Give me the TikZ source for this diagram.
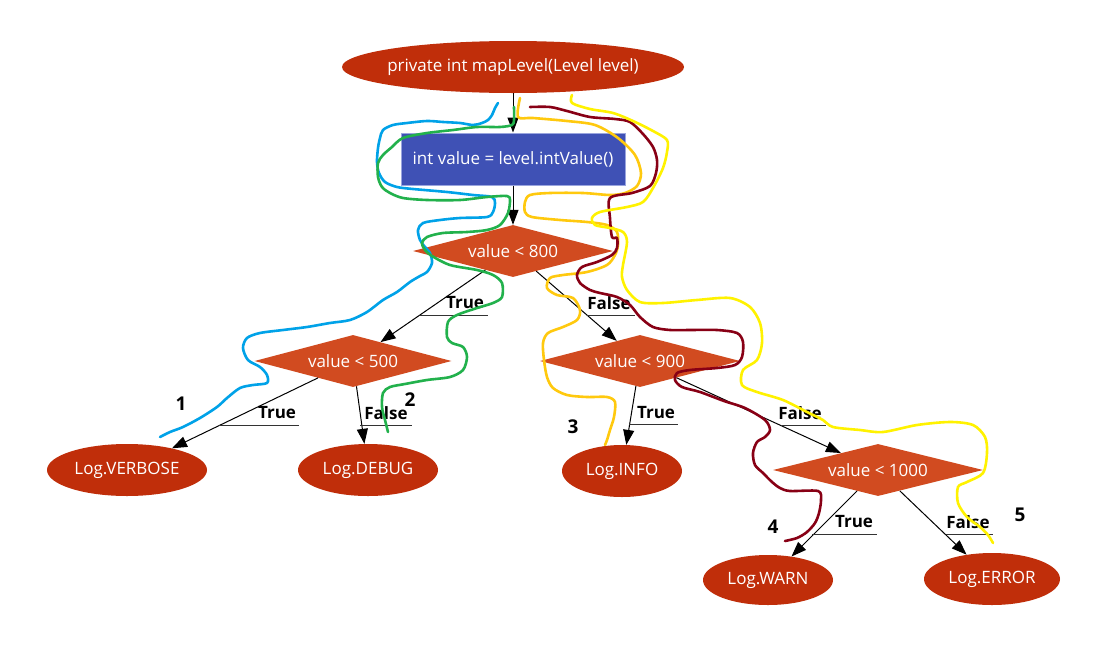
\documentclass[tikz,border=0pt]{standalone}
\usepackage{fontspec}
\setmainfont{Open Sans}
\usetikzlibrary{shapes.geometric,arrows.meta}
\definecolor{ellc}{HTML}{C02E0A}
\definecolor{diac}{HTML}{D14B20}
\definecolor{recc}{HTML}{3F51B5}
\definecolor{recb}{HTML}{9AA5DE}
\definecolor{fhblue}{HTML}{00A2E8}
\definecolor{fhgreen}{HTML}{22B14C}
\definecolor{fhorange}{HTML}{FFC90E}
\definecolor{fhred}{HTML}{880015}
\definecolor{fhyellow}{HTML}{FFF200}
\begin{document}
\begin{tikzpicture}[x=1pt,y=-1pt,
  term/.style={ellipse, fill=ellc, text=white, inner sep=0pt, inner xsep=-30pt, minimum height=52pt, font=\fontsize{17}{20}\selectfont},
  dec/.style={diamond, aspect=4, fill=diac, text=white, inner sep=0pt, minimum height=52pt, font=\fontsize{17}{20}\selectfont},
  proc/.style={rectangle, fill=recc, draw=recb, line width=1pt, text=white, minimum width=224pt, minimum height=52pt, font=\fontsize{17}{20}\selectfont},
  flow/.style={draw=black, line width=1pt, -{Triangle[length=15pt,width=11pt]}},
  lbl/.style={font=\bfseries\fontsize{17}{20}\selectfont, inner sep=0pt},
  uline/.style={draw=black!80, line width=1pt},
  num/.style={font=\bfseries\fontsize{19}{22}\selectfont, inner sep=0pt},
  fh/.style={line width=2.6pt, line cap=round, line join=round}
]
\useasboundingbox[fill=white] (0,0) rectangle (1098,651);

% nodes
\node[term, minimum width=342pt] (start) at (513,67) {private int mapLevel(Level level)};
\node[proc] (assign) at (513,159) {int value = level.intValue()};
\node[dec, minimum width=200pt] (d1) at (513,251) {value < 800};
\node[dec, minimum width=197pt] (d2) at (353,361) {value < 500};
\node[dec, minimum width=200pt] (d3) at (640,361) {value < 900};
\node[dec, minimum width=210pt] (d4) at (878,470) {value < 1000};
\node[term, minimum width=160pt] (verbose) at (127,470) {Log.VERBOSE};
\node[term, minimum width=140pt] (debug) at (368,470) {Log.DEBUG};
\node[term, minimum width=120pt] (info) at (622,471) {Log.INFO};
\node[term, minimum width=130pt, minimum height=50pt] (warn) at (768,580) {Log.WARN};
\node[term, minimum width=136pt] (error) at (992,579) {Log.ERROR};

% connectors
\draw[flow] (start) -- (assign);
\draw[flow] (assign) -- (d1);
\draw[flow] (d1) -- (d2);
\draw[flow] (d1) -- (d3);
\draw[flow] (d2) -- (verbose);
\draw[flow] (d2) -- (debug);
\draw[flow] (d3) -- (info);
\draw[flow] (d3) -- (d4);
\draw[flow] (d4) -- (warn);
\draw[flow] (d4) -- (error);

% edge labels
\draw[uline] (420,315) -- (488,315);
\node[lbl] (l1) at (465,303) {True};
\draw[uline] (587,315) -- (635,315);
\node[lbl] (l2) at (609,303) {False};
\draw[uline] (218,425) -- (299,425);
\node[lbl] (l3) at (277,413) {True};
\draw[uline] (360,425) -- (412,425);
\node[lbl] (l4) at (386,413) {False};
\draw[uline] (629,424) -- (678,424);
\node[lbl] (l5) at (656,413) {True};
\draw[uline] (781,425) -- (826,425);
\node[lbl] (l6) at (800,413) {False};
\draw[uline] (812,534) -- (877,534);
\node[lbl] (l7) at (854,522) {True};
\draw[uline] (946,534) -- (993,534);
\node[lbl] (l8) at (968,522) {False};

% path numbers
\node[num] (n1) at (181,404) {1};
\node[num] (n2) at (410,400) {2};
\node[num] (n3) at (573,427) {3};
\node[num] (n4) at (773,527) {4};
\node[num] (n5) at (1020,515) {5};

% freehand paths
\draw[fh, fhblue] plot[smooth, tension=0.5] coordinates {(498,103) (495,108) (492,115) (488,120) (482,123) (473,125) (460,123) (443,122) (427,121) (407,123) (393,125) (383,130) (380,138) (378,148) (377,162) (379,173) (385,182) (397,187) (413,189) (447,192) (473,195) (492,197) (495,203) (493,212) (487,217) (460,218) (440,220) (423,223) (418,230) (420,240) (425,247) (430,253) (432,263) (427,272) (420,276) (410,282) (397,292) (383,300) (367,312) (350,320) (330,323) (307,327) (283,330) (260,333) (247,338) (243,348) (248,360) (260,367) (267,375) (267,383) (253,385) (240,388) (227,398) (217,407) (200,418) (183,427) (170,432) (160,437)};

\draw[fh, fhgreen] plot[smooth, tension=0.5] coordinates {(514,107) (514,120) (512,125) (500,127) (477,127) (453,130) (427,133) (403,138) (392,147) (383,155) (378,163) (378,177) (382,187) (390,193) (403,198) (427,200) (460,200) (487,197) (507,196) (510,200) (508,213) (500,225) (487,230) (467,232) (443,233) (427,237) (422,243) (425,250) (432,256) (450,265) (477,270) (493,275) (502,283) (502,297) (493,303) (477,308) (457,315) (448,322) (447,337) (452,343) (463,347) (467,357) (463,370) (450,377) (427,380) (405,384) (390,387) (383,393) (382,407) (385,420) (388,432)};

\draw[fh, fhorange] plot[smooth, tension=0.5] coordinates {(520,98) (518,117) (533,118) (567,121) (595,125) (618,138) (635,155) (641,173) (637,186) (625,193) (610,195) (583,193) (550,193) (530,195) (525,202) (525,212) (532,217) (560,220) (587,222) (607,225) (617,232) (618,245) (615,255) (607,265) (587,272) (563,275) (550,278) (547,288) (557,295) (573,298) (580,310) (577,320) (563,327) (548,333) (543,343) (544,360) (547,377) (553,388) (567,395) (587,397) (607,397) (615,402) (614,417) (610,430) (607,440) (605,445)};

\draw[fh, fhred] plot[smooth, tension=0.5] coordinates {(530,107) (550,107) (567,111) (590,117) (615,119) (630,122) (643,134) (653,147) (657,160) (656,173) (650,186) (632,193) (610,198) (610,218) (612,237) (617,238) (617,248) (612,255) (597,262) (582,267) (577,275) (580,283) (590,290) (600,293) (617,297) (630,305) (640,317) (653,327) (670,330) (690,330) (717,330) (737,333) (743,342) (742,357) (735,365) (717,368) (690,370) (677,373) (675,380) (682,387) (700,392) (724,401) (745,408) (765,420) (770,430) (765,437) (757,442) (753,453) (755,465) (763,473) (772,482) (780,488) (790,491) (818,491) (821,500) (819,513) (815,523) (807,532) (797,538) (785,541)};

\draw[fh, fhyellow] plot[smooth, tension=0.5] coordinates {(572,95) (572,103) (590,109) (613,113) (633,121) (653,131) (667,140) (667,152) (663,168) (653,188) (643,202) (627,207) (600,212) (592,218) (595,225) (610,228) (623,232) (627,242) (623,265) (622,277) (627,290) (640,302) (663,303) (697,300) (730,298) (750,307) (760,323) (762,343) (757,360) (743,370) (742,385) (757,392) (783,400) (807,412) (823,420) (833,427) (860,430) (883,432) (917,425) (950,422) (973,425) (985,437) (987,453) (983,473) (967,482) (958,487) (958,503) (967,517) (980,527) (988,535) (993,543)};

\end{tikzpicture}
\end{document}
